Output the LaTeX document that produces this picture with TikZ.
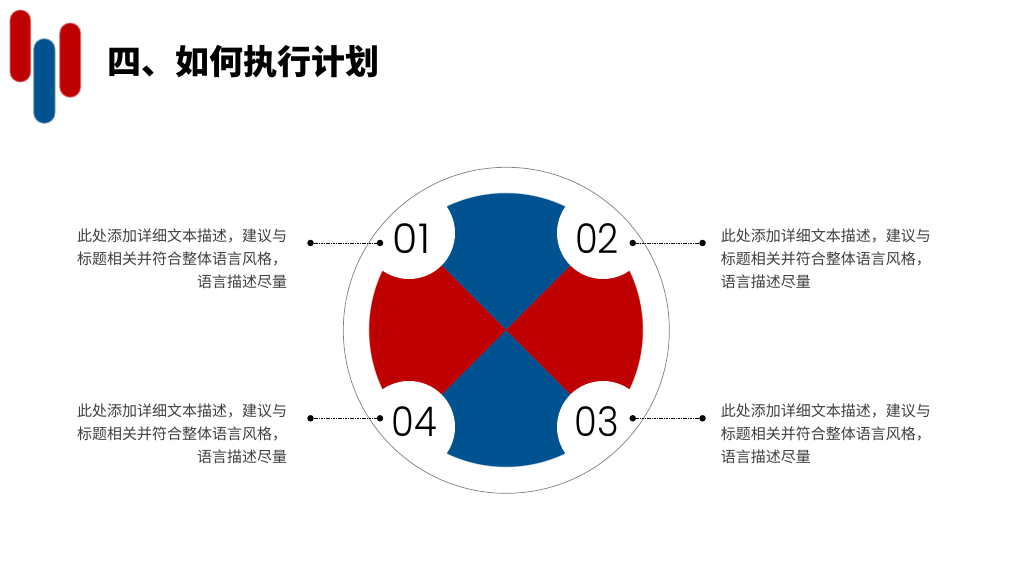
\documentclass[tikz,border=0pt]{standalone}
\usepackage{fontspec}
\setmainfont{Noto Sans CJK SC}
\newfontfamily\numfont{Poppins Light}
\newfontfamily\cjkfont{Noto Sans CJK SC}
\definecolor{brandred}{HTML}{BE0000}
\definecolor{brandblue}{HTML}{005291}
\definecolor{bodygray}{HTML}{404040}
\tikzset{
  redglow/.style={draw=brandred!55!white,draw opacity=.6,line width=1.2pt},
  blueglow/.style={draw=brandblue!55!white,draw opacity=.6,line width=1.2pt},
  redfill/.style={fill=brandred},
  bluefill/.style={fill=brandblue},
  notch/.style={circle,fill=white,draw=none,minimum size=92pt,inner sep=0pt},
  numlabel/.style={font=\numfont\fontsize{41}{41}\selectfont,text=black,inner sep=0pt,xscale=.9},
  dotnode/.style={circle,fill=black,draw=none,minimum size=6.5pt,inner sep=0pt},
  leader/.style={black,line width=.7pt,dash pattern=on 1.6pt off .8pt},
  bodyleft/.style={font=\cjkfont\fontsize{15}{23}\selectfont,text=bodygray,inner sep=0pt,anchor=east,align=right,text width=212pt},
  bodyright/.style={font=\cjkfont\fontsize{15}{23}\selectfont,text=bodygray,inner sep=0pt,anchor=west,align=left,text width=212pt},
  titletext/.style={font=\cjkfont\bfseries\fontsize{34}{40}\selectfont,text=black,inner sep=0pt,anchor=west}
}
\begin{document}
\begin{tikzpicture}[x=1pt,y=1pt]
\useasboundingbox (0,0) rectangle (1024,576);
\fill[white] (0,0) rectangle (1024,576);
% logo
\draw[redglow,redfill,rounded corners=10.3pt] (10,494) rectangle (30.7,566);
\draw[blueglow,bluefill,rounded corners=10.5pt] (33.7,452.7) rectangle (55,537.3);
\draw[redglow,redfill,rounded corners=10.5pt] (59.7,478.7) rectangle (80.7,553);
\node[titletext] (title) at (107,514.3) {四、如何执行计划};
% petals: pale rim first, solid fills over it so the diagonals stay clean
\coordinate (o) at (506,246);
\draw[blueglow] (o) -- ++(45:136.7pt) arc[start angle=45,end angle=135,radius=136.7pt] -- cycle;
\draw[blueglow] (o) -- ++(225:136.7pt) arc[start angle=225,end angle=315,radius=136.7pt] -- cycle;
\draw[redglow] (o) -- ++(135:136.7pt) arc[start angle=135,end angle=225,radius=136.7pt] -- cycle;
\draw[redglow] (o) -- ++(-45:136.7pt) arc[start angle=-45,end angle=45,radius=136.7pt] -- cycle;
\fill[bluefill] (o) -- ++(45:136.7pt) arc[start angle=45,end angle=135,radius=136.7pt] -- cycle;
\fill[bluefill] (o) -- ++(225:136.7pt) arc[start angle=225,end angle=315,radius=136.7pt] -- cycle;
\fill[redfill] (o) -- ++(135:136.7pt) arc[start angle=135,end angle=225,radius=136.7pt] -- cycle;
\fill[redfill] (o) -- ++(-45:136.7pt) arc[start angle=-45,end angle=45,radius=136.7pt] -- cycle;
\node[notch] (c1) at (409,343) {};
\node[notch] (c2) at (603,343) {};
\node[notch] (c3) at (603,149) {};
\node[notch] (c4) at (409,149) {};
\node[circle,draw=gray,line width=.7pt,fill=none,minimum size=326pt,inner sep=0pt] (ring) at (506.3,245.7) {};
% numbers
\node[numlabel,xscale=1.11] (n1) at (411.5,337) {01};
\node[numlabel] (n2) at (597,337) {02};
\node[numlabel] (n3) at (597,154.5) {03};
\node[numlabel] (n4) at (414.5,154.5) {04};
% connectors
\node[dotnode] (a1) at (310.5,333) {};
\node[dotnode] (b1) at (380,333) {};
\node[dotnode] (a2) at (702.5,333) {};
\node[dotnode] (b2) at (632.7,333) {};
\node[dotnode] (a3) at (702.5,157.7) {};
\node[dotnode] (b3) at (632.7,157.7) {};
\node[dotnode] (a4) at (310.5,157.7) {};
\node[dotnode] (b4) at (380,157.7) {};
\draw[leader] (a1) -- (b1);
\draw[leader] (a2) -- (b2);
\draw[leader] (a3) -- (b3);
\draw[leader] (a4) -- (b4);
% text
\node[bodyleft] (t1) at (287.3,317) {此处添加详细文本描述，建议与\\标题相关并符合整体语言风格，\\语言描述尽量};
\node[bodyright] (t2) at (720.7,317) {此处添加详细文本描述，建议与\\标题相关并符合整体语言风格，\\语言描述尽量};
\node[bodyleft] (t4) at (287.3,142) {此处添加详细文本描述，建议与\\标题相关并符合整体语言风格，\\语言描述尽量};
\node[bodyright] (t3) at (720.7,142) {此处添加详细文本描述，建议与\\标题相关并符合整体语言风格，\\语言描述尽量};
\end{tikzpicture}
\end{document}
